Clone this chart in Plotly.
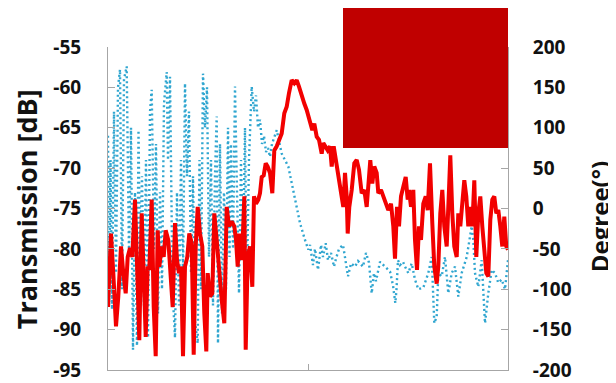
import plotly.graph_objects as go

# ---------------- data ----------------
red_x = [0, 3, 5.3, 8, 10.3, 13, 15.3, 17.7, 19.7, 22, 24.3, 27, 29.3, 31.3, 33.7, 35.7, 37.7, 39.7,
         41.3, 43.7, 45.7, 47.7, 49.7, 51.3, 53.7, 55.7, 57.7, 60.3, 62, 64.7, 67, 69, 71, 73, 75, 77,
         79.3, 81.3, 83.7, 85.7, 87.7, 89.7, 92, 94.3, 96.3, 98.3, 99.7, 102, 104.3, 106.3, 108.7, 111,
         113.7, 116.3, 118.7, 121, 123.7, 126.3, 128, 129.7, 131.3, 133, 134.7, 136.3, 137.7, 139.7,
         142, 144.3, 146, 148, 150.3, 152, 153.7, 155.7, 157.7, 159.7, 162, 164.3, 166.3, 168.7, 171,
         173.7, 176.3, 178.7, 181, 183.7, 186.3, 188.7, 191, 193.7, 196.3, 198.7, 202, 204.3, 206.3,
         208.7, 211, 213.7, 215.3, 217.7, 219.7, 222, 223.7, 225.7, 227.7, 229.7, 231.3, 233.7, 235.3,
         237, 238.7, 239.7, 241.3, 243.7, 246.3, 248.7, 251, 253.7, 256.3, 258.7, 260.3, 262.3, 264.3,
         266.3, 268.7, 270.3, 273, 275.3, 277.7, 280.3, 283, 285.3, 287, 289, 291, 293, 295.3, 297.7,
         299.7, 301, 303, 305.3, 307, 309, 311, 313, 315.3, 317.7, 319.7, 322, 324.3, 326.3, 328.7,
         330.3, 332.3, 334.3, 336.3, 338.7, 341, 342.3, 344.3, 346.3, 348.7, 350.3, 352.3, 354.3, 356.3,
         358.3, 360.3, 362.3, 364.3, 366.3, 368.3, 370.3, 372.3, 374.3, 376.3, 378.3, 380.3, 382.3,
         384.3, 386.3, 388.3, 390.3, 392.3, 394.3, 396.3, 398.3, 400]
red_db = [-87.2, -78.1, -83.0, -89.6, -85.9, -79.7, -83.0, -85.5, -81.0, -79.9, -81.0, -73.9, -83.0,
          -91.3, -75.6, -85.1, -90.9, -82.2, -82.6, -73.9, -87.2, -93.3, -77.7, -82.2, -79.7, -81.0,
          -77.7, -78.9, -82.2, -87.2, -76.8, -81.4, -83.0, -82.2, -93.3, -82.2, -81.0, -78.1, -79.3,
          -93.1, -79.7, -74.8, -78.1, -79.7, -88.0, -92.7, -83.0, -85.9, -85.5, -75.6, -78.9, -83.0,
          -86.3, -89.2, -74.8, -77.2, -76.6, -77.2, -78.9, -82.2, -78.1, -81.4, -78.9, -73.5, -92.5,
          -81.0, -79.7, -84.7, -73.5, -74.4, -73.9, -73.1, -71.1, -70.9, -69.4, -69.8, -70.6, -73.1,
          -67.8, -67.3, -66.5, -65.7, -63.2, -62.4, -60.7, -59.1, -59.5, -59.1, -59.9, -61.2, -62.0,
          -62.8, -64.5, -65.3, -64.5, -66.1, -66.5, -68.2, -66.9, -67.3, -67.8, -67.3, -69.8, -67.3,
          -69.0, -70.6, -71.9, -73.9, -74.8, -70.6, -73.5, -78.1, -74.8, -72.7, -69.4, -69.0, -70.2,
          -73.1, -72.7, -74.8, -72.3, -69.0, -71.9, -69.8, -70.6, -73.1, -72.7, -73.5, -74.4, -75.2,
          -74.4, -77.2, -81.2, -74.8, -77.2, -73.5, -72.3, -71.1, -73.9, -72.7, -74.8, -72.7, -78.9,
          -82.6, -77.2, -78.9, -74.4, -73.5, -75.2, -69.4, -76.8, -82.2, -84.3, -82.2, -75.6, -72.7,
          -77.2, -79.7, -72.7, -68.4, -75.6, -79.7, -81.0, -75.6, -77.2, -74.8, -71.5, -73.5, -77.2,
          -74.8, -77.2, -71.5, -81.0, -75.6, -73.5, -77.2, -81.0, -83.0, -83.4, -76.4, -73.9, -73.5,
          -75.6, -75.2, -77.2, -79.7, -76.0, -79.7, -80.1]

phase_x = [0, 1, 2.5, 4, 6, 8, 10, 12, 14, 16, 18.7, 21, 23, 25, 27, 29, 30.5, 32, 34, 36, 38, 40, 42,
           43.7, 46, 48, 50, 52, 54, 56, 58.7, 60, 62, 64.5, 67, 69, 71, 73, 75, 77, 79, 81, 83, 85, 87,
           89.7, 91.5, 93, 95, 97, 99, 101, 103, 105, 107, 108.7, 110, 112, 114, 116, 118, 120, 121.5,
           123, 125, 127, 129, 131, 133, 135, 137, 138.7, 141, 143.7, 146, 148, 150, 152, 154, 156, 158,
           160, 162, 164, 168.7, 173.7, 180.3, 183.7, 187, 192, 197, 200.3, 202, 205, 207, 210, 213, 215,
           217.7, 220, 223, 226, 228, 231, 235, 237, 240, 243, 247, 250, 255, 258, 261, 263.7, 266, 268,
           272, 277, 282, 285, 287.3, 288.5, 290, 292, 295, 297, 299, 300.3, 303.7, 307, 310.3, 315.3,
           320.3, 323.7, 326.3, 328.7, 330.3, 333.7, 337, 340.3, 343.7, 347, 350.3, 353.7, 358.7, 362,
           363.7, 365.3, 367, 370.3, 373.7, 377, 380.3, 383.7, 387, 390.3, 393.7, 397, 400]
phase_deg = [90, -120, 60, -125, 120, -80, 150, 172, -100, 160, 176, -60, 100, -175, 20, -170, 97, -60,
             40, -120, 60, -160, 120, 147, -50, 80, -130, 20, -100, 130, 169, 60, 163, -100, -160, 20,
             -120, 60, -80, 155, 40, 120, -80, 40, -140, -167, 60, -100, 167, 100, 150, -60, 60, -120,
             40, 114, -167, 80, -130, 20, -100, 100, -60, 80, -50, 151, 20, -105, 60, -60, 100, -105, 60,
             151, 120, 140, 100, 110, 80, 90, 70, 75, 64, 80, 97, 68, 52, 31, 11, -18, -39, -51, -45,
             -70, -50, -76, -45, -60, -43, -64, -55, -72, -62, -50, -45, -60, -84, -68, -72, -65, -72,
             -55, -67, -105, -80, -90, -66, -72, -78, -95, -117, -100, -64, -70, -66, -72, -78, -80, -68,
             -88, -100, -98, -80, -60, -142, -134, -80, -84, -60, -105, -80, -72, -109, -80, -60, -35,
             -22, -39, -80, -97, -64, -142, -105, -76, -80, -92, -88, -100, -64]

db_ticks = [-95, -90, -85, -80, -75, -70, -65, -60, -55]
db_labels = ["-95", "-90", "-85", "-80", "-75", "-70", "-65", "-60", "-55"]
deg_ticks = [-200, -150, -100, -50, 0, 50, 100, 150, 200]
deg_labels = ["-200", "-150", "-100", "-50", "0", "50", "100", "150", "200"]

# ---------------- figure ----------------
# The page body has an 8px margin, so the figure is 8px smaller than the window
AX = "#A6A6A6"
tfont = dict(family="Open Sans", size=19, color="#111111", weight="bold")

fig = go.Figure()
fig.add_trace(go.Scatter(x=phase_x, y=phase_deg, mode="lines", yaxis="y",
                         line=dict(color="#30A6D0", width=2.4, dash="2px,3px"),
                         showlegend=False, hoverinfo="skip"))
fig.add_trace(go.Scatter(x=red_x, y=red_db, mode="lines", yaxis="y2",
                         line=dict(color="#F20000", width=4),
                         showlegend=False, hoverinfo="skip"))

fig.update_layout(
    template="none",
    width=608, height=375,
    margin=dict(l=100, r=108, t=39, b=13, autoexpand=False),
    paper_bgcolor="white", plot_bgcolor="white",
    xaxis=dict(range=[0, 400], showline=True, linecolor=AX, linewidth=1,
               ticks="inside", tickvals=[200], ticklen=6, tickcolor=AX,
               showticklabels=False, showgrid=False, zeroline=False, automargin=False),
    yaxis=dict(range=[-200, 200], side="right", tickvals=deg_ticks, ticktext=deg_labels,
               ticks="inside", ticklen=7, tickcolor=AX, showline=True, linecolor=AX,
               linewidth=1, tickfont=tfont, ticklabelstandoff=20,
               showgrid=False, zeroline=False, automargin=False),
    yaxis2=dict(range=[-95, -55], side="left", overlaying="y", tickvals=db_ticks,
                ticktext=db_labels, ticks="inside", ticklen=7, tickcolor=AX,
                showline=True, linecolor=AX, linewidth=1, tickfont=tfont,
                ticklabelstandoff=22, showgrid=False, zeroline=False, automargin=False),
    shapes=[dict(type="rect", xref="paper", yref="paper", x0=0.5875, x1=1.0,
                 y0=0.687, y1=1.121, fillcolor="#C00000", line=dict(width=0),
                 layer="above")],
    annotations=[
        dict(text="Transmission [dB]", xref="paper", yref="paper", x=-0.205, y=0.498,
             textangle=-90, showarrow=False, xanchor="center", yanchor="middle",
             font=dict(family="Open Sans", size=27, color="#111111", weight="bold")),
        dict(text="Degree(°)", xref="paper", yref="paper", x=1.229, y=0.475,
             textangle=-90, showarrow=False, xanchor="center", yanchor="middle",
             font=dict(family="Open Sans", size=24, color="#111111", weight="bold")),
    ],
)

fig.write_html("out.html")
